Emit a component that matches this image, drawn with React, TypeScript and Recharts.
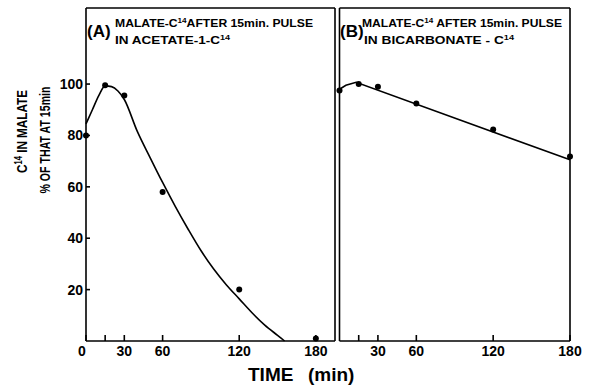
import React from 'react';
import { ComposedChart, Line, XAxis, YAxis } from 'recharts';

// ---- data ----
const timeTicksA = [0, 15, 30, 60, 120, 180];
const timeTicksB = [15, 30, 60, 120, 180];
const percentTicks = [20, 40, 60, 80, 100];

const acetateTimes = [0, 15, 30, 60, 120, 180];
const acetateValues = [80, 99.5, 95.5, 58, 20, 1];
const acetateCurveTimes = [0, 5, 10, 15, 20, 25, 30, 40, 50, 60, 70, 80, 90, 100, 110, 120, 130, 140, 150, 155.5];
const acetateCurveValues = [84.5, 90, 95.5, 99.3, 99, 97.3, 94, 81.8, 71.6, 61.7, 52.3, 43.5, 35.2, 28, 21.8, 16.4, 11, 6.2, 2.2, 0];

const bicarbTimes = [0, 15, 30, 60, 120, 180];
const bicarbValues = [97.5, 100, 99, 92.4, 82.3, 71.8];
const bicarbCurveTimes = [0, 5, 13, 180];
const bicarbCurveValues = [98, 99.5, 100.7, 70.5];

const zip = (ts: number[], vs: number[]) => ts.map((t, i) => ({ t, v: vs[i] }));
const acetatePoints = zip(acetateTimes, acetateValues);
const acetateCurve = zip(acetateCurveTimes, acetateCurveValues);
const bicarbPoints = zip(bicarbTimes, bicarbValues);
const bicarbCurve = zip(bicarbCurveTimes, bicarbCurveValues);

// ---- styles ----
const FONT = '"Liberation Sans", Arial, sans-serif';
const axisStroke = { stroke: '#000', strokeWidth: 1.6 };
const dotStyle = { r: 3, fill: '#000', stroke: 'none' };
const Y_DOMAIN: [number, number] = [0, 129.6];

const XTick = (props: any) => {
  const { x, y, payload } = props;
  const v = payload.value;
  if (v === 15) return null;
  return (
    <text x={x + (v === 0 ? -4 : 0)} y={y} dy="0.71em" textAnchor="middle"
      fontFamily={FONT} fontSize={14} fontWeight={700} fill="#000">{v}</text>
  );
};

const YTick = (props: any) => {
  const { x, y, payload } = props;
  return (
    <text x={x} y={y} dy="0.36em" textAnchor="end"
      fontFamily={FONT} fontSize={14} fontWeight={700} fill="#000">{payload.value}</text>
  );
};

const ChartA = () => (
  <ComposedChart width={596} height={387} margin={{ top: 7, right: 260, bottom: 16, left: 26 }}>
    <XAxis xAxisId="a" type="number" dataKey="t" domain={[0, 195]} ticks={timeTicksA} interval={0}
      tickSize={-6} tickMargin={11} height={30} axisLine={axisStroke} tickLine={axisStroke} tick={<XTick />} />
    <XAxis xAxisId="top" orientation="top" type="number" domain={[0, 1]} height={1}
      axisLine={axisStroke} tick={false} tickLine={false} />
    <YAxis yAxisId="a" type="number" domain={Y_DOMAIN} ticks={percentTicks} interval={0} width={60}
      tickSize={-4} tickMargin={7} axisLine={axisStroke} tickLine={axisStroke} tick={<YTick />} />
    <YAxis yAxisId="r" orientation="right" type="number" domain={Y_DOMAIN} width={1}
      axisLine={axisStroke} tick={false} tickLine={false} />
    <Line xAxisId="a" yAxisId="a" data={acetateCurve} dataKey="v" type="monotone" stroke="#000"
      strokeWidth={1.6} dot={false} activeDot={false} isAnimationActive={false} />
    <Line xAxisId="a" yAxisId="a" data={acetatePoints} dataKey="v" stroke="none"
      dot={dotStyle} activeDot={false} isAnimationActive={false} />
  </ComposedChart>
);

const ChartB = () => (
  <ComposedChart width={596} height={387} margin={{ top: 7, right: 25, bottom: 16, left: 338.5 }}>
    <XAxis xAxisId="b" type="number" dataKey="t" domain={[0, 180]} ticks={timeTicksB} interval={0}
      tickSize={-6} tickMargin={11} height={30} axisLine={axisStroke} tickLine={axisStroke} tick={<XTick />} />
    <XAxis xAxisId="top" orientation="top" type="number" domain={[0, 1]} height={1}
      axisLine={axisStroke} tick={false} tickLine={false} />
    <YAxis yAxisId="b" type="number" domain={Y_DOMAIN} width={1}
      axisLine={axisStroke} tick={false} tickLine={false} />
    <YAxis yAxisId="r" orientation="right" type="number" domain={Y_DOMAIN} ticks={percentTicks} interval={0}
      width={1} tickSize={-4} axisLine={axisStroke} tickLine={axisStroke} tick={false} />
    <Line xAxisId="b" yAxisId="b" data={bicarbCurve} dataKey="v" type="linear" stroke="#000"
      strokeWidth={1.6} dot={false} activeDot={false} isAnimationActive={false} />
    <Line xAxisId="b" yAxisId="b" data={bicarbPoints} dataKey="v" stroke="none"
      dot={dotStyle} activeDot={false} isAnimationActive={false} />
  </ComposedChart>
);

const Texts = () => (
  <svg width={596} height={387} style={{ position: 'absolute', left: 0, top: 0, pointerEvents: 'none' }}
    fontFamily={FONT} fontWeight={700} fill="#000">
    <text x={87} y={37} fontSize={17}>(A)</text>
    <text x={115} y={27} fontSize={10.5} textLength={198} lengthAdjust="spacingAndGlyphs">
      <tspan>MALATE-C</tspan>
      <tspan fontSize={7} dy={-4}>14</tspan>
      <tspan dy={4}>AFTER 15min. PULSE</tspan>
    </text>
    <text x={115} y={44} fontSize={10.5} textLength={115} lengthAdjust="spacingAndGlyphs">
      <tspan>IN ACETATE-1-C</tspan>
      <tspan fontSize={7} dy={-4}>14</tspan>
    </text>
    <text x={340} y={37} fontSize={17}>(B)</text>
    <text x={362} y={27} fontSize={10.5} textLength={200} lengthAdjust="spacingAndGlyphs">
      <tspan>MALATE-C</tspan>
      <tspan fontSize={7} dy={-4}>14</tspan>
      <tspan dy={4}> AFTER 15min. PULSE</tspan>
    </text>
    <text x={364} y={44} fontSize={10.5} textLength={150} lengthAdjust="spacingAndGlyphs">
      <tspan>IN BICARBONATE - C</tspan>
      <tspan fontSize={7} dy={-4}>14</tspan>
    </text>
    <text transform="translate(27,131.5) rotate(-90)" textAnchor="middle" fontSize={15.5}
      textLength={83} lengthAdjust="spacingAndGlyphs">
      <tspan>C</tspan>
      <tspan fontSize={10} dy={-5}>14</tspan>
      <tspan dy={5}> IN MALATE</tspan>
    </text>
    <text transform="translate(50,140) rotate(-90)" textAnchor="middle" fontSize={15.5}
      textLength={107} lengthAdjust="spacingAndGlyphs">
      % OF THAT AT 15min
    </text>
    <text y={381} fontSize={19}>
      <tspan x={248}>TIME</tspan>
      <tspan x={308}>(min)</tspan>
    </text>
  </svg>
);

export default function App() {
  return (
    <div style={{ position: 'absolute', left: 0, top: 0, width: 596, height: 387, background: '#fff' }}>
      <div style={{ position: 'absolute', left: 0, top: 0 }}><ChartA /></div>
      <div style={{ position: 'absolute', left: 0, top: 0 }}><ChartB /></div>
      <Texts />
    </div>
  );
}
